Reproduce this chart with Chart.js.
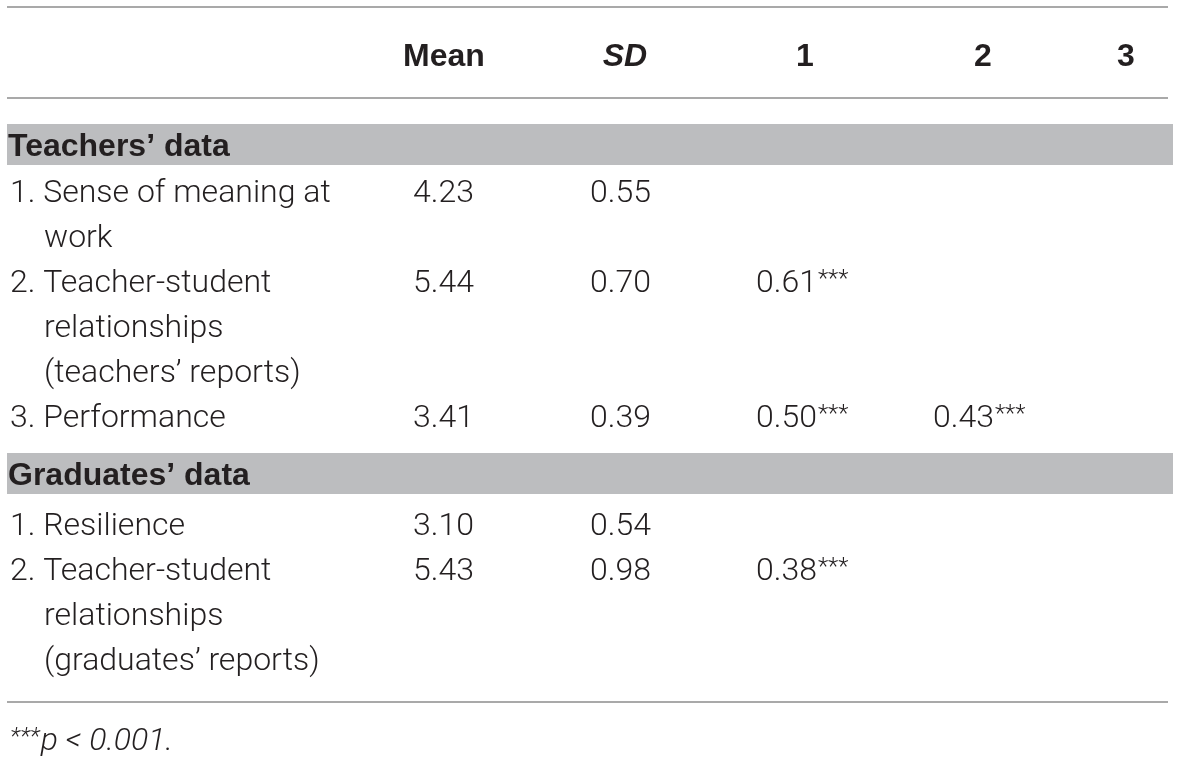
<!DOCTYPE html>
<html>
<head>
<meta charset="utf-8">
<script src="https://cdn.jsdelivr.net/npm/chart.js@4.4.1/dist/chart.umd.min.js"></script>
<style>
  html, body { margin: 0; padding: 0; background: #fff; }
  #wrap { width: 1181px; height: 762px; }
</style>
</head>
<body>
<div id="wrap"><canvas id="tbl" width="1181" height="762"></canvas></div>
<script>
// table content
const columns = ['Mean', 'SD', '1', '2', '3'];
const sections = ["Teachers\u2019 data", "Graduates\u2019 data"];

const teacherLabels = [
    ['1. Sense of meaning at', 'work'],
    ['2. Teacher-student', 'relationships', '(teachers\u2019 reports)'],
    ['3. Performance']
];
const teacherMeans = ['4.23', '5.44', '3.41'];
const teacherSDs = ['0.55', '0.70', '0.39'];
const teacherR1 = ['', '0.61', '0.50'];
const teacherR2 = ['', '', '0.43'];

const gradLabels = [
    ['1. Resilience'],
    ['2. Teacher-student', 'relationships', '(graduates\u2019 reports)']
];
const gradMeans = ['3.10', '5.43'];
const gradSDs = ['0.54', '0.98'];
const gradR1 = ['', '0.38'];

const stars = '***';
const footnote = 'p < 0.001.';

// layout (scale units map 1:1 onto the canvas)
const colHeadX = [444, 625, 805, 983, 1126];
const colCellX = [413, 590, 756, 933];
const labelX = 10, indentX = 44;
const ruleL = 7, ruleR = 1168, bandR = 1173;
const lineStep = 45;

const bodyFont = '300 32px "Roboto", "Liberation Sans", sans-serif';
const starFont = '300 24px "Roboto", "Liberation Sans", sans-serif';
const boldFont = 'bold 32px "Liberation Sans", Arial, sans-serif';
const ink = '#231f20';

const tablePlugin = {
    id: 'tableDraw',
    afterDraw(chart) {
        const ctx = chart.ctx;
        const xs = chart.scales.x, ys = chart.scales.y;
        const X = v => xs.getPixelForValue(v);
        const Y = v => ys.getPixelForValue(v);

        function rule(y) {
            ctx.save();
            ctx.strokeStyle = '#8c8c8c';
            ctx.lineWidth = 1.6;
            ctx.beginPath();
            ctx.moveTo(X(ruleL), Y(y));
            ctx.lineTo(X(ruleR), Y(y));
            ctx.stroke();
            ctx.restore();
        }
        function text(str, x, y, font, align) {
            ctx.font = font;
            ctx.textAlign = align || 'left';
            ctx.fillText(str, X(x), Y(y));
        }
        function cell(val, x, y) {
            if (!val) return;
            text(val, x, y, bodyFont);
            const w = ctx.measureText(val).width;
            ctx.font = starFont;
            ctx.fillText(stars, X(x) + w + 1, Y(y) - 6);
        }
        function band(top) {
            ctx.fillStyle = '#bcbdbf';
            ctx.fillRect(X(ruleL), Y(top), X(bandR) - X(ruleL), Y(top + 41) - Y(top));
            ctx.fillStyle = ink;
        }

        ctx.save();
        ctx.fillStyle = ink;
        ctx.textBaseline = 'alphabetic';

        rule(7);
        columns.forEach((c, i) => {
            const f = c === 'SD' ? 'italic ' + boldFont : boldFont;
            text(c, colHeadX[i], 66, f, 'center');
        });
        rule(98);

        function section(title, top, firstGap, labels, cols) {
            band(top);
            text(title, 8, top + 32, boldFont);
            let y = top + 41 + firstGap;
            labels.forEach((lines, r) => {
                lines.forEach((ln, k) => {
                    text(ln, k === 0 ? labelX : indentX, y + k * lineStep, bodyFont);
                });
                text(cols[0][r], colCellX[0], y, bodyFont);
                text(cols[1][r], colCellX[1], y, bodyFont);
                for (let c = 2; c < cols.length; c++) cell(cols[c][r], colCellX[c], y);
                y += lines.length * lineStep;
            });
            return y - lineStep;
        }

        const last1 = section(sections[0], 124, 37, teacherLabels,
            [teacherMeans, teacherSDs, teacherR1, teacherR2]);
        const last2 = section(sections[1], last1 + 26, 41, gradLabels,
            [gradMeans, gradSDs, gradR1]);
        rule(last2 + 32);

        // footnote
        ctx.font = 'italic ' + starFont;
        ctx.textAlign = 'left';
        ctx.fillText(stars, X(labelX), Y(744));
        const sw = ctx.measureText(stars).width;
        ctx.font = 'italic ' + bodyFont;
        ctx.fillText(footnote, X(labelX) + sw + 1, Y(750));
        ctx.restore();
    }
};

new Chart(document.getElementById('tbl').getContext('2d'), {
    type: 'scatter',
    data: { datasets: [{ data: [], pointRadius: 0 }] },
    options: {
        responsive: false,
        animation: false,
        layout: { padding: 0 },
        plugins: { legend: { display: false }, tooltip: { enabled: false } },
        scales: {
            x: { type: 'linear', min: 0, max: 1181, display: false },
            y: { type: 'linear', min: 0, max: 762, reverse: true, display: false }
        }
    },
    plugins: [tablePlugin]
});
</script>
</body>
</html>
